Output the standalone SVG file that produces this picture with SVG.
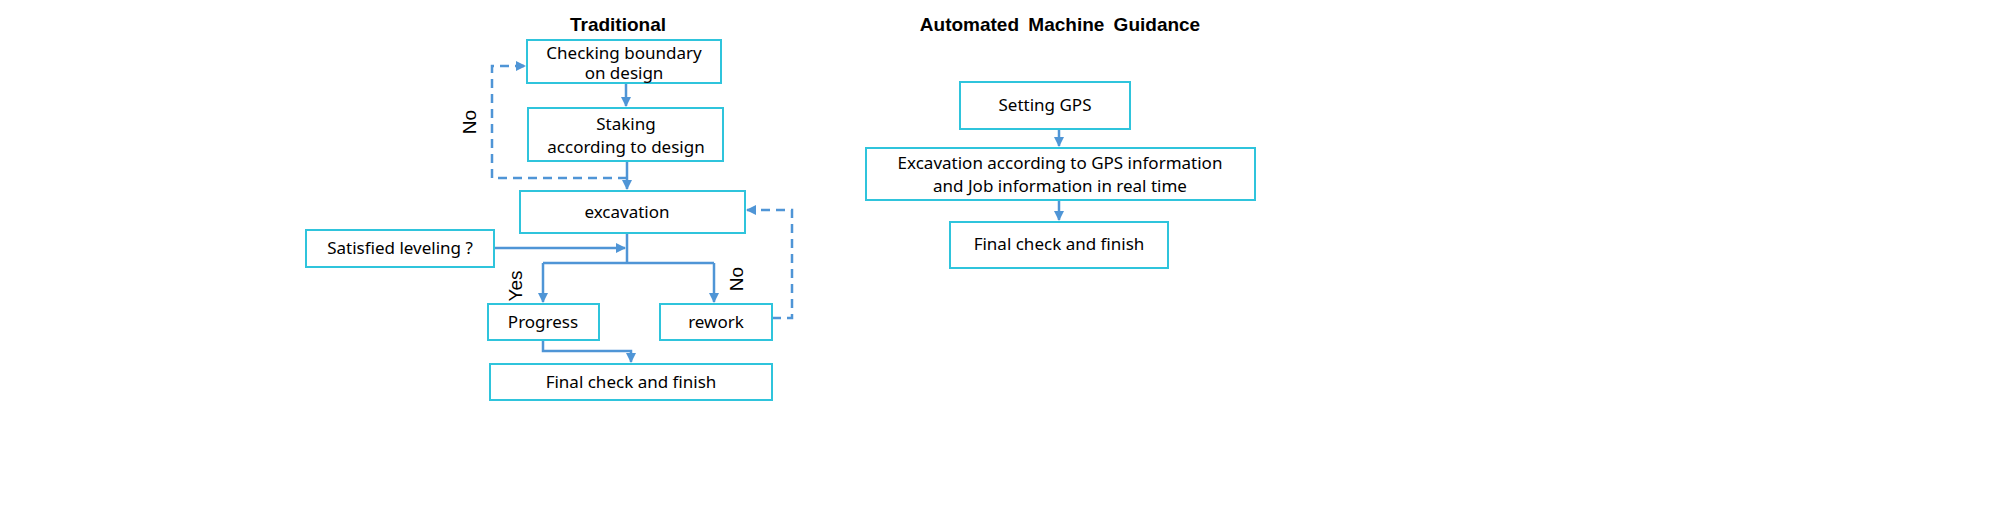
<svg xmlns="http://www.w3.org/2000/svg" width="2008" height="519" viewBox="0 0 2008 519">
<style>
.b{fill:#fff;stroke:#2fc4dc;stroke-width:2}
.t{font-family:"Noto Sans","Open Sans",sans-serif;font-size:17px;fill:#000;text-anchor:middle}
.h{font-family:"Liberation Sans",sans-serif;font-size:19px;font-weight:bold;fill:#000;text-anchor:middle;word-spacing:4px}
.c{fill:none;stroke:#4f95d6;stroke-width:2.5}
.d{fill:none;stroke:#4f95d6;stroke-width:2.5;stroke-dasharray:9,6}
.l{font-family:"Liberation Sans",sans-serif;font-size:19px;fill:#000;text-anchor:middle}
</style>
<defs><marker id="a" viewBox="0 0 10 10" refX="9" refY="5" markerWidth="4" markerHeight="4" orient="auto"><path d="M0,0L10,5L0,10z" fill="#4f95d6"/></marker></defs>
<rect width="2008" height="519" fill="#fff"/>
<text class="h" x="618" y="31">Traditional</text>
<text class="h" x="1060" y="31">Automated Machine Guidance</text>
<g id="connectors">
<path class="c" d="M626,83V106" marker-end="url(#a)"/>
<path class="c" d="M627,161V189" marker-end="url(#a)"/>
<path class="d" d="M627,178H492V66H525" marker-end="url(#a)"/>
<path class="c" d="M627,233V263M543,263H714"/>
<path class="c" d="M543,263V302" marker-end="url(#a)"/>
<path class="c" d="M714,263V302" marker-end="url(#a)"/>
<path class="c" d="M494,248H625" marker-end="url(#a)"/>
<path class="d" d="M772,318H792V210H747" marker-end="url(#a)"/>
<path class="c" d="M543,340V351H631V362" marker-end="url(#a)"/>
<path class="c" d="M1059,129V146" marker-end="url(#a)"/>
<path class="c" d="M1059,200V220" marker-end="url(#a)"/>
</g>
<text class="l" transform="translate(476,122) rotate(-90)">No</text>
<text class="l" transform="translate(522,286) rotate(-90)">Yes</text>
<text class="l" transform="translate(743,279) rotate(-90)">No</text>
<g id="n1"><rect class="b" x="527" y="40" width="194" height="43"/><text class="t" x="624" y="59">Checking boundary</text><text class="t" x="624" y="79">on design</text></g>
<g id="n2"><rect class="b" x="528" y="108" width="195" height="53"/><text class="t" x="626" y="130">Staking</text><text class="t" x="626" y="153">according to design</text></g>
<g id="n3"><rect class="b" x="520" y="191" width="225" height="42"/><text class="t" x="627" y="218">excavation</text></g>
<g id="n4"><rect class="b" x="306" y="230" width="188" height="37"/><text class="t" x="400" y="254">Satisfied leveling ?</text></g>
<g id="n5"><rect class="b" x="488" y="304" width="111" height="36"/><text class="t" x="543" y="328">Progress</text></g>
<g id="n6"><rect class="b" x="660" y="304" width="112" height="36"/><text class="t" x="716" y="328">rework</text></g>
<g id="n7"><rect class="b" x="490" y="364" width="282" height="36"/><text class="t" x="631" y="388">Final check and finish</text></g>
<g id="r1"><rect class="b" x="960" y="82" width="170" height="47"/><text class="t" x="1045" y="111">Setting GPS</text></g>
<g id="r2"><rect class="b" x="866" y="148" width="389" height="52"/><text class="t" x="1060" y="169">Excavation according to GPS information</text><text class="t" x="1060" y="192">and Job information in real time</text></g>
<g id="r3"><rect class="b" x="950" y="222" width="218" height="46"/><text class="t" x="1059" y="250">Final check and finish</text></g>
</svg>
